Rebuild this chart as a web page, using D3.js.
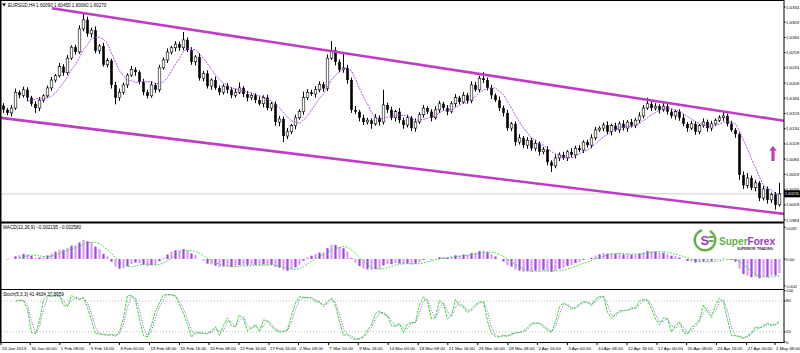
<!DOCTYPE html>
<html><head><meta charset="utf-8">
<script src="https://cdn.jsdelivr.net/npm/d3@7"></script>
<style>
body{margin:0;background:#fff}
text{font-family:"Liberation Sans",Arial,sans-serif}
</style></head>
<body><svg width="800" height="353"></svg>
<script>
// EURSGD, one candle = 2 x H4 bars
const firstOpen = 1.6172;
const closes = [1.6165,1.6160,1.6168,1.6194,1.6189,1.6198,1.6185,1.6175,1.6168,1.6181,
1.6188,1.6201,1.6214,1.6221,1.6236,1.6226,1.6250,1.6268,1.6260,1.6298,
1.6313,1.6290,1.6296,1.6262,1.6270,1.6239,1.6246,1.6206,1.6185,1.6194,
1.6206,1.6222,1.6231,1.6227,1.6211,1.6194,1.6188,1.6206,1.6198,1.6234,
1.6247,1.6260,1.6267,1.6273,1.6267,1.6280,1.6263,1.6244,1.6252,1.6217,
1.6225,1.6204,1.6214,1.6201,1.6194,1.6204,1.6198,1.6189,1.6194,1.6201,
1.6191,1.6185,1.6189,1.6181,1.6175,1.6185,1.6168,1.6175,1.6145,1.6150,
1.6122,1.6129,1.6139,1.6152,1.6162,1.6185,1.6194,1.6191,1.6198,1.6207,
1.6200,1.6250,1.6263,1.6244,1.6231,1.6234,1.6214,1.6165,1.6162,1.6152,
1.6145,1.6148,1.6142,1.6152,1.6145,1.6173,1.6165,1.6152,1.6162,1.6148,
1.6140,1.6152,1.6135,1.6145,1.6157,1.6168,1.6162,1.6152,1.6165,1.6175,
1.6168,1.6162,1.6175,1.6185,1.6178,1.6189,1.6180,1.6206,1.6198,1.6217,
1.6214,1.6201,1.6189,1.6181,1.6168,1.6160,1.6135,1.6142,1.6112,1.6119,
1.6107,1.6115,1.6102,1.6110,1.6096,1.6100,1.6079,1.6073,1.6086,1.6091,
1.6086,1.6096,1.6091,1.6102,1.6099,1.6112,1.6107,1.6119,1.6132,1.6135,
1.6140,1.6129,1.6139,1.6132,1.6142,1.6135,1.6145,1.6139,1.6148,1.6155,
1.6168,1.6175,1.6168,1.6171,1.6165,1.6171,1.6162,1.6155,1.6162,1.6152,
1.6142,1.6135,1.6142,1.6129,1.6139,1.6145,1.6135,1.6142,1.6148,1.6152,
1.6155,1.6142,1.6132,1.6125,1.6058,1.6041,1.6053,1.6037,1.6045,1.6020,
1.6035,1.6017,1.6026,1.6009,1.6027];
// shadows, in pips
const upWick = [4,3,5,6,3,5,4,3,4,5, 3,4,5,3,6,4,5,3,4,6, 11,5,4,6,3,5,4,3,5,6, 4,3,6,4,3,5,4,6,3,5,
4,6,3,5,4,13,4,5,3,6, 4,5,3,6,4,3,5,4,6,9, 3,5,4,3,6,4,5,3,4,5, 4,6,3,5,4,10,5,4,6,5,
4,6,15,5,4,25,5,4,6,3, 5,4,3,6,4,25,4,5,3,6, 4,5,3,6,4,5,3,4,6,5, 3,5,4,6,3,5,4,6,5,4,
10,4,5,3,6,4,5,3,4,6, 3,5,4,6,3,4,5,3,6,4, 5,3,6,4,5,3,4,6,5,3, 4,6,3,5,4,6,3,5,4,6,
5,10,4,5,3,6,4,5,3,4, 6,3,5,4,3,6,4,5,3,4, 7,4,5,3,3,6,8,4,5,3, 5,4,3,4,18];
const downWick = [5,4,6,3,5,4,6,4,8,5, 4,3,5,4,3,5,4,3,4,3, 4,5,6,4,5,3,4,6,11,5, 4,5,3,6,4,5,4,3,5,4,
3,5,4,6,5,4,3,5,6,4, 5,4,6,3,5,4,6,5,4,3, 5,6,4,5,3,6,4,5,6,7, 10,5,4,6,3,5,4,3,6,4,
5,4,3,6,4,5,6,5,4,6, 5,4,8,3,6,4,5,4,6,5, 6,4,5,6,3,5,4,6,3,5, 4,6,3,5,4,3,5,4,3,4,
5,4,6,3,5,6,4,5,6,4, 5,6,4,5,6,4,5,10,4,5, 3,5,4,6,3,5,4,5,4,3, 5,4,6,3,5,4,6,3,4,5,
4,3,5,4,6,3,5,4,6,5, 4,6,3,5,4,3,6,5,4,3, 5,4,3,6,8,6,5,4,6,5, 4,6,5,8,3];

const priceTicks = [1.6334,1.6309,1.6284,1.6259,1.6234,1.6209,1.6184,1.6159,1.6134,1.6109,1.6084,1.6059,1.6034,1.6009,1.5984];
const macdTicks = [0.00492, 0, -0.0042];
const stochTicks = [100, 80, 20, 0];
const stochLevels = [80, 20];
const dateLabels = ["24 Jan 2013","30 Jan 00:00","1 Feb 08:00","5 Feb 16:00","8 Feb 00:00","13 Feb 08:00","15 Feb 16:00",
"20 Feb 08:00","22 Feb 16:00","27 Feb 16:00","2 Mar 08:00","7 Mar 00:00","9 Mar 16:00","14 Mar 00:00","18 Mar 08:00",
"21 Mar 16:00","26 Mar 00:00","28 Mar 08:00","2 Apr 16:00","5 Apr 00:00","10 Apr 08:00","12 Apr 16:00","17 Apr 00:00",
"20 Apr 08:00","24 Apr 16:00","27 Apr 00:00","2 May 08:00"];
const dateBars = [-0.5,6.8,14.2,21.7,29.1,36.6,44.1,51.5,59.0,66.5,73.9,81.4,88.8,96.3,103.8,111.2,118.7,126.2,
133.6,141.1,148.5,156.0,163.5,170.9,178.4,185.9,193.0];
// trend channel drawn on the chart: [bar, price]
const upperChannel = [[12.2, 1.6332], [195.3, 1.6147]];
const lowerChannel = [[-0.8, 1.6152], [195.3, 1.5994]];
const arrowMark = [[192.5, 1.6081], [192.5, 1.6106]];

const pip = 0.0001;
const n = closes.length;
const candles = closes.map((c, i) => {
    const o = i ? closes[i - 1] : firstOpen;
    return {i, o, c, h: Math.max(o, c) + upWick[i] * pip, l: Math.min(o, c) - downWick[i] * pip};
});

// indicators (periods halved, since one candle here is two H4 bars)
function ema(arr, p) {
    const k = 2 / (p + 1);
    const out = [];
    arr.forEach((v, i) => out.push(i ? v * k + out[i - 1] * (1 - k) : v));
    return out;
}
function sma(arr, p) {
    return arr.map((v, i) => {
        const s = arr.slice(i - p + 1, i + 1);
        if (i < p - 1 || s.some(d => d == null)) return null;
        return d3.mean(s);
    });
}
const ma = sma(closes, 7);
const fast = ema(closes, 6), slow = ema(closes, 13);
const macd = closes.map((c, i) => fast[i] - slow[i]);
const signal = sma(macd, 5);
const kPer = 3, slowing = 2;
const stochK = candles.map((d, i) => {
    if (i < kPer + slowing - 2) return null;
    let num = 0, den = 0;
    for (let j = i - slowing + 1; j <= i; j++) {
        const win = candles.slice(j - kPer + 1, j + 1);
        const hh = d3.max(win, e => e.h), ll = d3.min(win, e => e.l);
        num += candles[j].c - ll;
        den += hh - ll;
    }
    return den ? num / den * 100 : 50;
});
const stochD = sma(stochK, 2);

const svg = d3.select("svg");
const R = 784;
const x = d3.scaleLinear().domain([0, n - 1]).range([3, 779]);
const y = d3.scaleLinear().domain([1.5984, 1.6334]).range([220, 7]);
const yMacd = d3.scaleLinear().domain([-0.0042, 0]).range([286, 259]);
const yStoch = d3.scaleLinear().domain([0, 100]).range([342, 290.7]);

const defs = svg.append("defs");
[["cMain", 1, 222], ["cMacd", 223, 289], ["cStoch", 290, 342]].forEach(([id, y0, y1]) => {
    defs.append("clipPath").attr("id", id).append("rect")
        .attr("x", 1).attr("y", y0).attr("width", R - 1).attr("height", y1 - y0);
});

// ---- main panel
const main = svg.append("g").attr("clip-path", "url(#cMain)");
const last = candles[n - 1];
main.append("line").attr("x1", 1).attr("x2", R).attr("y1", y(last.c)).attr("y2", y(last.c))
    .attr("stroke", "#cfcfcf").attr("stroke-width", 1);

main.selectAll(".wick").data(candles).join("line")
    .attr("x1", d => x(d.i) + 0.5).attr("x2", d => x(d.i) + 0.5)
    .attr("y1", d => y(d.h)).attr("y2", d => y(d.l))
    .attr("stroke", "#000").attr("stroke-width", 1);
main.selectAll(".body").data(candles).join("rect")
    .attr("x", d => x(d.i) - 0.8).attr("width", 2.6)
    .attr("y", d => y(Math.max(d.o, d.c)))
    .attr("height", d => Math.max(0.8, Math.abs(y(d.o) - y(d.c))))
    .attr("fill", d => d.c < d.o ? "#000" : "#fff")
    .attr("stroke", d => d.c < d.o ? "none" : "#000").attr("stroke-width", 0.6);

const maLine = d3.line().defined(d => d != null).x((d, i) => x(i) + 0.5).y(d => y(d));
main.append("path").attr("d", maLine(ma)).attr("fill", "none")
    .attr("stroke", "#a33fe0").attr("stroke-width", 0.9).attr("stroke-dasharray", "2,1");

const chLine = d3.line().x(d => x(d[0])).y(d => y(d[1]));
[upperChannel, lowerChannel].forEach(ch => {
    main.append("path").attr("d", chLine(ch)).attr("fill", "none")
        .attr("stroke", "#bf3cc4").attr("stroke-width", 2.6);
});

const ax = x(arrowMark[0][0]), ayB = y(arrowMark[0][1]), ayT = y(arrowMark[1][1]);
main.append("path")
    .attr("d", `M${ax - 1.6},${ayB}L${ax - 1.6},${ayT + 5}L${ax - 3.8},${ayT + 5}L${ax},${ayT}L${ax + 3.8},${ayT + 5}L${ax + 1.6},${ayT + 5}L${ax + 1.6},${ayB}Z`)
    .attr("fill", "#c03cc4");

// ---- macd panel
const mp = svg.append("g").attr("clip-path", "url(#cMacd)");
mp.selectAll("rect").data(macd).join("rect")
    .attr("x", (d, i) => x(i) - 0.6).attr("width", 2.2)
    .attr("y", d => Math.min(yMacd(d), yMacd(0)))
    .attr("height", d => Math.abs(yMacd(d) - yMacd(0)))
    .attr("fill", (d, i) => i % 2 ? "#a845e0" : "#d2a4ee");
const sigLine = d3.line().defined(d => d != null).x((d, i) => x(i) + 0.5).y(d => yMacd(d));
mp.append("path").attr("d", sigLine(signal)).attr("fill", "none")
    .attr("stroke", "#2bd92b").attr("stroke-width", 1).attr("stroke-dasharray", "1.5,1.5");

// ---- stochastic panel
const sp = svg.append("g").attr("clip-path", "url(#cStoch)");
sp.selectAll("line").data(stochLevels).join("line")
    .attr("x1", 1).attr("x2", R).attr("y1", d => yStoch(d)).attr("y2", d => yStoch(d))
    .attr("stroke", "#b0b0b0").attr("stroke-width", 0.8).attr("stroke-dasharray", "1,2");
const stLine = d3.line().defined(d => d != null).x((d, i) => x(i) + 0.5).y(d => yStoch(d));
sp.append("path").attr("d", stLine(stochD)).attr("fill", "none")
    .attr("stroke", "#a04ce0").attr("stroke-width", 1).attr("stroke-dasharray", "1,1.5");
sp.append("path").attr("d", stLine(stochK)).attr("fill", "none")
    .attr("stroke", "#33dd33").attr("stroke-width", 1).attr("stroke-dasharray", "3,1");

// ---- frames
svg.append("rect").attr("x", 1).attr("y", 0.5).attr("width", R - 1).attr("height", 342)
    .attr("fill", "none").attr("stroke", "#000").attr("stroke-width", 1);
svg.append("line").attr("x1", 0).attr("x2", 0).attr("y1", 0).attr("y2", 343).attr("stroke", "#000").attr("stroke-width", 2);
svg.append("line").attr("x1", 1).attr("x2", R).attr("y1", 222.5).attr("y2", 222.5).attr("stroke", "#000").attr("stroke-width", 2);
svg.append("line").attr("x1", 1).attr("x2", R).attr("y1", 289.5).attr("y2", 289.5).attr("stroke", "#000").attr("stroke-width", 1);

// ---- right scales
const fs = 4.6, fsR = 4.3;
function rightScale(vals, sc, fmt, minY = 0) {
    const g = svg.append("g");
    g.selectAll("line").data(vals).join("line")
        .attr("x1", R).attr("x2", R + 1.5).attr("y1", d => sc(d)).attr("y2", d => sc(d)).attr("stroke", "#000");
    g.selectAll("text").data(vals).join("text")
        .attr("x", R + 2).attr("y", d => Math.max(sc(d) + 1.5, minY)).attr("font-size", fsR).text(fmt)
        .each(function () {
            if (this.textContent.length > 6) d3.select(this).attr("textLength", 11).attr("lengthAdjust", "spacingAndGlyphs");
        });
}
rightScale(priceTicks, y, d3.format(".4f"));
rightScale(macdTicks, yMacd, d => d === 0 ? "0.00" : String(d), 229.5);
rightScale(stochTicks, yStoch, d => d);

svg.append("rect").attr("x", R).attr("y", y(last.c) - 3.5).attr("width", 16).attr("height", 7).attr("fill", "#000");
svg.append("text").attr("x", R + 1).attr("y", y(last.c) + 1.5).attr("font-size", fsR).attr("fill", "#fff")
    .attr("textLength", 14).attr("lengthAdjust", "spacingAndGlyphs")
    .text(d3.format(".5f")(last.c));

// ---- time scale
const tg = svg.append("g");
tg.selectAll("line").data(dateBars).join("line")
    .attr("x1", d => x(d)).attr("x2", d => x(d)).attr("y1", 343).attr("y2", 345).attr("stroke", "#000");
tg.selectAll("text").data(dateLabels).join("text")
    .attr("x", (d, i) => x(dateBars[i]) + 1).attr("y", 349.5).attr("font-size", 4.4).text(d => d);

// ---- headers
const f5 = d3.format(".5f"), f6 = d3.format(".6f"), f4 = d3.format(".4f");
svg.append("path").attr("d", "M2,3.5L6,3.5L4,6.5Z").attr("fill", "#000");
svg.append("text").attr("x", 8).attr("y", 7).attr("font-size", fs)
    .text(`EURSGD,H4 ${f5(last.o)} ${f5(last.h)} ${f5(last.l)} ${f5(last.c)}`);
svg.append("text").attr("x", 3).attr("y", 229).attr("font-size", fs)
    .text(`MACD(12,26,9) ${f6(macd[n - 1])} ${f6(signal[n - 1])}`);
svg.append("text").attr("x", 3).attr("y", 296).attr("font-size", fs)
    .text(`Stoch(5,3,3) ${f4(stochK[n - 1])} ${f4(stochD[n - 1])}`);

// ---- logo
const logo = svg.append("g");
logo.append("path").attr("d", d3.arc()({innerRadius: 9, outerRadius: 11.5, startAngle: 0.5, endAngle: Math.PI * 2 - 0.3}))
    .attr("transform", "translate(705,240)").attr("fill", "#63b146");
logo.append("text").attr("x", 700.5).attr("y", 245).attr("font-size", 13).attr("font-weight", "bold")
    .attr("fill", "#9a3cbc").text("S");
logo.append("rect").attr("x", 708.5).attr("y", 236).attr("width", 5).attr("height", 2).attr("fill", "#63b146");
logo.append("rect").attr("x", 708.5).attr("y", 240).attr("width", 5).attr("height", 2).attr("fill", "#63b146");
const brand = logo.append("text").attr("x", 719).attr("y", 245).attr("font-size", 10.5).attr("font-weight", "bold")
    .attr("textLength", 56).attr("lengthAdjust", "spacingAndGlyphs");
brand.append("tspan").attr("fill", "#63b146").text("Super");
brand.append("tspan").attr("fill", "#9a3cbc").text("Forex");
logo.append("text").attr("x", 737).attr("y", 250).attr("font-size", 3.6).attr("font-weight", "bold")
    .attr("fill", "#333").attr("textLength", 36).attr("lengthAdjust", "spacingAndGlyphs").text("SUPERIOR TRADING");
</script></body></html>
